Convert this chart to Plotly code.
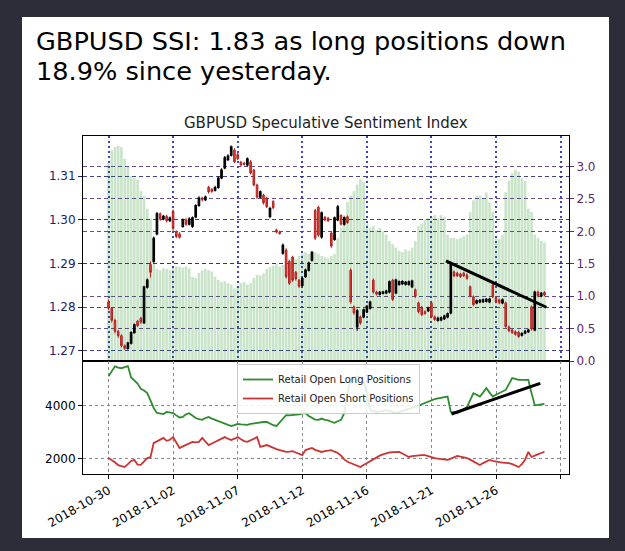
import plotly.graph_objects as go

# ---------------- data ----------------
# 4-hour candles, index 0..135
price_open = [1.2812,1.2798,1.2770,1.2745,1.2735,1.2712,1.2706,1.2718,1.2742,1.2768,
              1.2775,1.2764,1.2846,1.2898,1.2905,1.2968,1.3014,1.3002,1.3008,1.2998,
              1.3020,1.2972,1.2968,1.2985,1.3000,1.2990,1.2985,1.3007,1.3033,1.3050,
              1.3046,1.3075,1.3070,1.3068,1.3074,1.3096,1.3119,1.3138,1.3148,1.3160,
              1.3150,1.3132,1.3130,1.3126,1.3133,1.3114,1.3080,1.3052,1.3057,1.3050,
              1.3008,1.3042,1.2977,1.2972,1.2924,1.2931,1.2905,1.2915,1.2880,1.2862,
              1.2850,1.2870,1.2885,1.2908,1.3022,1.3029,1.2961,1.3006,1.3004,1.2970,
              1.2955,1.3000,1.3010,1.2990,1.3007,1.2885,1.2801,1.2755,1.2778,1.2778,
              1.2790,1.2798,1.2862,1.2835,1.2830,1.2832,1.2833,1.2835,1.2862,1.2833,
              1.2852,1.2854,1.2853,1.2852,1.2847,1.2840,1.2810,1.2800,1.2790,1.2792,
              1.2810,1.2778,1.2770,1.2771,1.2774,1.2778,1.2787,1.2881,1.2878,1.2876,
              1.2878,1.2874,1.2847,1.2824,1.2810,1.2812,1.2813,1.2814,1.2812,1.2851,
              1.2822,1.2817,1.2810,1.2810,1.2755,1.2748,1.2744,1.2743,1.2736,1.2741,
              1.2744,1.2801,1.2748,1.2835,1.2826,1.2834]
price_high = [1.2818,1.2800,1.2774,1.2748,1.2738,1.2715,1.2721,1.2745,1.2763,1.2771,
              1.2778,1.2849,1.2866,1.2905,1.2962,1.3018,1.3017,1.3011,1.3012,1.3008,
              1.3024,1.2976,1.2972,1.3003,1.3004,1.3006,1.3008,1.3036,1.3054,1.3053,
              1.3056,1.3078,1.3073,1.3078,1.3100,1.3118,1.3146,1.3150,1.3170,1.3164,
              1.3153,1.3135,1.3133,1.3143,1.3137,1.3117,1.3083,1.3067,1.3060,1.3053,
              1.3030,1.3046,1.2980,1.2975,1.2946,1.2935,1.2908,1.2918,1.2883,1.2865,
              1.2869,1.2888,1.2904,1.2929,1.3025,1.3032,1.3019,1.3009,1.3007,1.2973,
              1.3008,1.3034,1.3013,1.3008,1.3010,1.2889,1.2804,1.2796,1.2781,1.2797,
              1.2805,1.2815,1.2866,1.2838,1.2837,1.2838,1.2840,1.2861,1.2865,1.2865,
              1.2861,1.2862,1.2860,1.2861,1.2863,1.2843,1.2813,1.2803,1.2793,1.2801,
              1.2813,1.2781,1.2778,1.2779,1.2783,1.2788,1.2903,1.2884,1.2881,1.2879,
              1.2881,1.2877,1.2850,1.2827,1.2818,1.2819,1.2820,1.2821,1.2822,1.2854,
              1.2825,1.2820,1.2820,1.2813,1.2758,1.2751,1.2747,1.2746,1.2743,1.2748,
              1.2751,1.2804,1.2838,1.2838,1.2835,1.2837]
price_low = [1.2794,1.2765,1.2740,1.2730,1.2708,1.2702,1.2703,1.2715,1.2740,1.2755,
             1.2762,1.2762,1.2843,1.2868,1.2902,1.2965,1.2998,1.2999,1.2994,1.2995,
             1.2975,1.2958,1.2957,1.2982,1.2986,1.2987,1.2982,1.3004,1.3030,1.3042,
             1.3043,1.3060,1.3062,1.3065,1.3071,1.3093,1.3116,1.3135,1.3145,1.3130,
             1.3137,1.3122,1.3124,1.3123,1.3104,1.3077,1.3048,1.3049,1.3035,1.3027,
             1.3004,1.3024,1.2969,1.2966,1.2920,1.2866,1.2851,1.2858,1.2861,1.2844,
             1.2846,1.2867,1.2882,1.2905,1.2954,1.2961,1.2957,1.2997,1.2995,1.2936,
             1.2952,1.2997,1.2987,1.2987,1.2991,1.2808,1.2783,1.2746,1.2760,1.2775,
             1.2787,1.2795,1.2831,1.2827,1.2827,1.2829,1.2830,1.2832,1.2814,1.2830,
             1.2849,1.2851,1.2850,1.2849,1.2844,1.2821,1.2786,1.2780,1.2783,1.2789,
             1.2775,1.2769,1.2767,1.2768,1.2771,1.2775,1.2784,1.2869,1.2869,1.2867,
             1.2869,1.2863,1.2823,1.2803,1.2807,1.2809,1.2810,1.2811,1.2809,1.2821,
             1.2809,1.2807,1.2807,1.2753,1.2743,1.2739,1.2735,1.2730,1.2733,1.2738,
             1.2741,1.2747,1.2745,1.2823,1.2823,1.2825]
price_close = [1.2798,1.2770,1.2745,1.2735,1.2712,1.2706,1.2718,1.2742,1.2760,1.2758,
               1.2766,1.2846,1.2862,1.2880,1.2958,1.3014,1.3002,1.3008,1.2998,1.3004,
               1.2980,1.2962,1.2960,1.3000,1.2990,1.3002,1.3005,1.3033,1.3050,1.3046,
               1.3052,1.3064,1.3065,1.3074,1.3096,1.3114,1.3142,1.3146,1.3167,1.3133,
               1.3140,1.3126,1.3127,1.3140,1.3107,1.3080,1.3052,1.3064,1.3039,1.3030,
               1.3026,1.3028,1.2972,1.2969,1.2942,1.2870,1.2855,1.2862,1.2865,1.2848,
               1.2866,1.2885,1.2901,1.2926,1.2958,1.2965,1.3016,1.3000,1.2998,1.2940,
               1.3005,1.3030,1.2990,1.3005,1.2994,1.2812,1.2787,1.2792,1.2764,1.2794,
               1.2802,1.2812,1.2835,1.2830,1.2834,1.2835,1.2837,1.2858,1.2818,1.2862,
               1.2858,1.2859,1.2857,1.2858,1.2860,1.2825,1.2790,1.2783,1.2786,1.2798,
               1.2778,1.2772,1.2775,1.2776,1.2780,1.2785,1.2900,1.2872,1.2872,1.2870,
               1.2872,1.2866,1.2826,1.2806,1.2815,1.2816,1.2817,1.2818,1.2819,1.2824,
               1.2812,1.2810,1.2817,1.2756,1.2746,1.2742,1.2738,1.2733,1.2740,1.2745,
               1.2748,1.2750,1.2835,1.2826,1.2832,1.2828]

# Speculative sentiment index (green bars, right axis)
ssi = [3.05,3.25,3.30,3.32,3.30,3.12,3.00,2.85,2.82,2.80,
       2.62,2.55,2.35,2.20,1.55,1.42,1.40,1.43,1.42,1.40,
       1.44,1.46,1.45,1.44,1.46,1.43,1.30,1.28,1.36,1.40,
       1.42,1.40,1.38,1.30,1.25,1.22,1.23,1.20,1.18,1.12,
       1.15,1.20,1.22,1.18,1.20,1.28,1.33,1.32,1.35,1.42,
       1.45,1.47,1.50,1.46,1.48,1.55,1.58,1.60,1.57,1.62,
       1.66,1.68,1.65,1.67,1.68,1.65,1.62,1.60,1.58,1.62,
       1.65,1.90,2.05,2.25,2.45,2.55,2.62,2.72,2.80,2.76,
       2.12,2.05,2.08,2.02,2.05,2.00,1.95,1.85,1.80,1.75,
       1.70,1.68,1.72,1.70,1.75,1.85,2.08,2.12,2.18,2.20,
       2.22,2.25,2.20,2.25,2.22,1.95,1.90,1.90,1.88,1.90,
       1.92,1.95,2.30,2.48,2.55,2.55,2.50,2.60,2.45,2.30,
       1.92,1.88,1.95,2.60,2.78,2.90,2.95,2.92,2.82,2.78,
       2.35,2.30,1.95,1.90,1.85,1.83]

long_positions = [5100,5300,5470,5420,5400,5440,5480,5050,4920,4820,
                  4620,4560,4460,4150,3900,3710,3690,3670,3750,3730,
                  3710,3620,3540,3560,3660,3700,3600,3520,3480,3450,
                  3520,3560,3500,3450,3400,3350,3300,3260,3220,3250,
                  3300,3280,3260,3260,3300,3320,3340,3360,3370,3370,
                  3300,3250,3220,3350,3500,3630,3620,3630,3640,3660,
                  3690,3710,3600,3520,3460,3450,3500,3450,3430,3380,
                  3340,3400,3450,3700,4460,4960,5050,5100,5050,4900,
                  4460,3820,3780,3750,3760,3800,3820,3780,3740,3710,
                  3740,3780,3820,3850,3900,3940,3990,4040,4090,4150,
                  4200,4230,4260,4290,4320,4330,3750,3720,3710,3780,
                  3860,3940,4200,4460,4400,4330,4480,4650,4480,4330,
                  4400,4460,4520,4580,4800,5030,5000,4960,4960,4950,
                  4960,4460,4000,4020,4040,4050]
short_positions = [2010,1940,1850,1740,1700,1670,1780,1900,1940,1760,
                   1750,1880,2010,2050,2580,2640,2690,2770,2660,2700,
                   2800,2600,2390,2450,2500,2560,2620,2600,2620,2770,
                   2620,2500,2560,2620,2660,2720,2800,2740,2690,2740,
                   2800,2720,2650,2620,2690,2740,2800,2430,2470,2500,
                   2450,2390,2350,2310,2280,2240,2250,2270,2220,2170,
                   2120,2310,2350,2390,2320,2280,2240,2270,2300,2310,
                   2250,2200,2100,1960,1870,1820,1760,1700,1670,1750,
                   1820,1900,1980,2050,2100,2150,2200,2220,2230,2240,
                   2240,2180,2110,2050,2080,2100,2110,2120,2120,2080,
                   2040,2010,1990,1970,1950,1940,1990,2040,2090,2060,
                   2030,2010,1950,1880,1800,1750,1820,1880,1940,1900,
                   1870,1860,1840,1830,1820,1780,1720,1670,1780,1940,
                   2240,2050,2100,2160,2200,2240]

# hand-drawn trend lines (bar index, value)
trend_price_x = [104.5, 135.6]
trend_price_y = [1.2906, 1.2800]
trend_pos_x = [106.2, 133.7]
trend_pos_y = [3672, 4830]

tick_index = [0, 20, 40, 60, 80, 100, 120, 140]
tick_dates = ["2018-10-30", "2018-11-02", "2018-11-07", "2018-11-12",
              "2018-11-16", "2018-11-21", "2018-11-26", ""]
price_ticks = [1.27, 1.28, 1.29, 1.30, 1.31]
ssi_ticks = [0.0, 0.5, 1.0, 1.5, 2.0, 2.5, 3.0]
pos_ticks = [2000, 4000]

main_title = "GBPUSD SSI: 1.83 as long positions down"
main_title_2 = "18.9% since yesterday."
chart_title = "GBPUSD Speculative Sentiment Index"

# ---------------- layout helpers (pixel -> paper) ----------------
W, H = 625, 551
def fx(p):
    return p / W
def fy(p):
    return 1 - p / H

idx = list(range(len(price_close)))

FONT = "DejaVu Sans"
NAVY = "#22226e"
PURPLE = "#5e2a6e"

fig = go.Figure()

fig.add_trace(go.Bar(
    x=idx, y=ssi, xaxis="x", yaxis="y",
    marker=dict(color="rgba(0,128,0,0.21)", line=dict(width=0)),
    showlegend=False, hoverinfo="skip"))

fig.add_trace(go.Candlestick(
    x=idx, open=price_open, high=price_high, low=price_low, close=price_close,
    xaxis="x", yaxis="y2",
    increasing=dict(line=dict(color="black", width=1.1), fillcolor="black"),
    decreasing=dict(line=dict(color="#b52020", width=1.0), fillcolor="rgba(222,50,40,0.92)"),
    whiskerwidth=0, showlegend=False))

fig.add_trace(go.Scatter(
    x=trend_price_x, y=trend_price_y, xaxis="x", yaxis="y2", mode="lines",
    line=dict(color="black", width=3), showlegend=False, hoverinfo="skip"))

fig.add_trace(go.Scatter(
    x=idx, y=long_positions, xaxis="x2", yaxis="y3", mode="lines",
    line=dict(color="#2e8b2e", width=1.8), name="Retail Open Long Positions"))
fig.add_trace(go.Scatter(
    x=idx, y=short_positions, xaxis="x2", yaxis="y3", mode="lines",
    line=dict(color="#cc3333", width=1.8), name="Retail Open Short Positions"))
fig.add_trace(go.Scatter(
    x=trend_pos_x, y=trend_pos_y, xaxis="x2", yaxis="y3", mode="lines",
    line=dict(color="black", width=3), showlegend=False, hoverinfo="skip"))

x_dom = [fx(83), fx(569)]
x_range = [-7.9, 142.6]

fig.update_layout(
    width=W, height=H,
    margin=dict(l=0, r=0, t=0, b=0, autoexpand=False),
    paper_bgcolor="#2c2d38",
    plot_bgcolor="white",
    font=dict(family=FONT, color="black", size=12),
    bargap=0.18,
    xaxis=dict(
        domain=x_dom, anchor="y", range=x_range, automargin=False,
        tickvals=tick_index, showticklabels=False, ticks="",
        showgrid=True, gridcolor="rgba(40,50,185,0.9)", griddash="2px,3px", gridwidth=1.5,
        showline=True, mirror=True, linecolor="black", linewidth=1,
        zeroline=False, rangeslider=dict(visible=False)),
    yaxis=dict(
        domain=[fy(361), fy(136)], anchor="x", side="right", range=[0, 3.47],
        automargin=False,
        tickvals=ssi_ticks, ticktext=["%.1f" % v for v in ssi_ticks],
        tickfont=dict(color=PURPLE, size=12), ticks="outside", ticklen=4,
        tickcolor=PURPLE,
        showgrid=True, gridcolor="rgba(85,55,140,0.9)", griddash="4px,3px", gridwidth=1.3,
        showline=True, mirror=True, linecolor="black", linewidth=1, zeroline=False),
    yaxis2=dict(
        overlaying="y", anchor="x", side="left", range=[1.2677, 1.3192],
        automargin=False,
        tickvals=price_ticks, ticktext=["%.2f" % v for v in price_ticks],
        tickfont=dict(color=NAVY, size=12), ticks="outside", ticklen=4, tickcolor=NAVY,
        showgrid=True, gridcolor="rgba(45,45,135,0.9)", griddash="4px,3px", gridwidth=1.3,
        showline=False, zeroline=False),
    xaxis2=dict(
        domain=x_dom, anchor="y3", range=x_range, matches="x", automargin=False,
        tickvals=tick_index, ticktext=tick_dates, tickangle=-30,
        tickfont=dict(size=12), ticks="outside", ticklen=4, tickcolor="black",
        showgrid=True, gridcolor="rgba(110,110,110,0.8)", griddash="3px,3px", gridwidth=1,
        showline=True, mirror=True, linecolor="black", linewidth=1, zeroline=False),
    yaxis3=dict(
        domain=[fy(474), fy(361)], anchor="x2", range=[1408, 5672], automargin=False,
        tickvals=pos_ticks, tickfont=dict(size=12), ticks="outside", ticklen=4,
        tickcolor="black",
        showgrid=True, gridcolor="rgba(110,110,110,0.8)", griddash="3px,3px", gridwidth=1,
        showline=True, mirror=True, linecolor="black", linewidth=1, zeroline=False),
    legend=dict(
        x=fx(237), y=fy(364), xanchor="left", yanchor="top",
        bgcolor="rgba(255,255,255,0.85)", bordercolor="#cccccc", borderwidth=1,
        font=dict(family=FONT, size=10, color="#222222"),
        tracegroupgap=0, itemwidth=30),
    shapes=[dict(type="rect", xref="paper", yref="paper",
                 x0=fx(22), x1=fx(609), y0=fy(538), y1=fy(17),
                 fillcolor="white", line=dict(width=0), layer="below")],
    annotations=[
        dict(text=main_title, xref="paper", yref="paper", x=fx(34), y=fy(41),
             xanchor="left", yanchor="middle", showarrow=False,
             font=dict(family=FONT, size=25.6, color="black")),
        dict(text=main_title_2, xref="paper", yref="paper", x=fx(34), y=fy(71),
             xanchor="left", yanchor="middle", showarrow=False,
             font=dict(family=FONT, size=25.6, color="black")),
        dict(text=chart_title, xref="paper", yref="paper", x=fx(326), y=fy(123),
             xanchor="center", yanchor="middle", showarrow=False,
             font=dict(family=FONT, size=15, color="#222222")),
    ],
)

fig.write_html("out.html", config={"displayModeBar": False})
